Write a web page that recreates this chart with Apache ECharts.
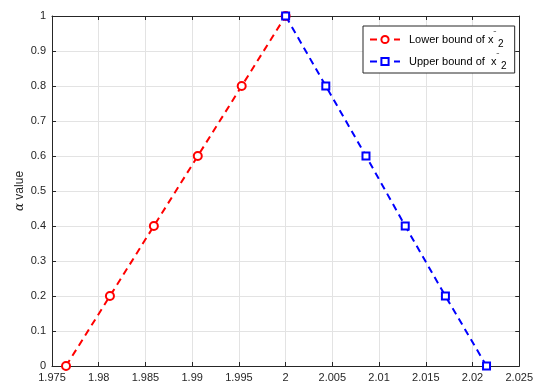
<!DOCTYPE html>
<html>
<head>
<meta charset="utf-8">
<script src="https://cdn.jsdelivr.net/npm/echarts@6/dist/echarts.min.js"></script>
<style>
  html, body { margin: 0; padding: 0; background: #fff; }
  #chart { width: 536px; height: 387px; }
</style>
</head>
<body>
<div id="chart"></div>
<script>
// alpha levels and the two bounds
const alphaLevels = [0, 0.2, 0.4, 0.6, 0.8, 1];
const lowerBound = [1.9765, 1.9812, 1.9859, 1.9906, 1.9953, 2.0];
const upperBound = [2.0215, 2.0171, 2.0128, 2.0086, 2.0043, 2.0];
const xTicks = [1.975, 1.98, 1.985, 1.99, 1.995, 2, 2.005, 2.01, 2.015, 2.02, 2.025];
const yTicks = [0, 0.1, 0.2, 0.3, 0.4, 0.5, 0.6, 0.7, 0.8, 0.9, 1];

(function () {
  const axisColor = '#262626';
  const font = 'Liberation Sans, Arial, sans-serif';
  const chart = echarts.init(document.getElementById('chart'));

  const fmt = v => String(+(+v).toFixed(3));

  // main axes plus mirrored ones for the box ticks
  const baseAxis = (pos, min, max, step, labels) => ({
    type: 'value', position: pos, min: min, max: max, interval: step,
    axisLine: { show: true, onZero: false, lineStyle: { color: axisColor, width: 1 } },
    axisTick: { show: true, inside: true, length: 4, lineStyle: { color: axisColor } },
    axisLabel: { show: labels, color: axisColor, fontFamily: font, fontSize: 11, formatter: fmt, margin: 6 },
    splitLine: { show: labels, lineStyle: { color: '#e3e3e3', width: 1 } }
  });

  const toPairs = (xs) => xs.map((x, i) => [x, alphaLevels[i]]);

  chart.setOption({
    animation: false,
    backgroundColor: '#fff',
    grid: { left: 52, right: 15, top: 16, bottom: 21, containLabel: false },
    xAxis: [
      baseAxis('bottom', xTicks[0], xTicks[xTicks.length - 1], 0.005, true),
      baseAxis('top', xTicks[0], xTicks[xTicks.length - 1], 0.005, false)
    ],
    yAxis: [
      Object.assign(baseAxis('left', yTicks[0], yTicks[yTicks.length - 1], 0.1, true), {
        name: '{a|α} value', nameLocation: 'middle', nameGap: 26, nameRotate: 90,
        nameMoveOverlap: false,
        nameTextStyle: {
          color: axisColor, fontFamily: font, fontSize: 12,
          rich: { a: { fontFamily: 'DejaVu Serif, serif', fontStyle: 'italic', fontSize: 12, color: axisColor } }
        }
      }),
      baseAxis('right', yTicks[0], yTicks[yTicks.length - 1], 0.1, false)
    ],
    legend: {
      orient: 'vertical', left: 363, top: 26,
      padding: [4, 8, 2, 6], itemGap: 3, itemWidth: 30, itemHeight: 9,
      backgroundColor: '#fff', borderColor: axisColor, borderWidth: 1, borderRadius: 0,
      textStyle: {
        color: '#000', fontFamily: font, fontSize: 11,
        rich: {
          t: { fontSize: 11, color: '#000', padding: [0, 0, 0, 4] },
          sup: { fontSize: 8, verticalAlign: 'top', padding: [0, 0, 7, 0], color: '#000' },
          sub: { fontSize: 10, padding: [9, 0, 0, 2], color: '#000' }
        }
      },
      formatter: name => name === 'lower'
        ? '{t|Lower bound of x}{sup|˜}{sub|2}'
        : '{t|Upper bound of  x}{sup|˜}{sub|2}',
      data: ['lower', 'upper']
    },
    series: [
      {
        name: 'lower', type: 'line', data: toPairs(lowerBound),
        symbol: 'emptyCircle', symbolSize: 8,
        lineStyle: { color: '#ff0000', width: 2, type: [7, 5] },
        itemStyle: { color: '#ff0000', borderColor: '#ff0000', borderWidth: 2 }
      },
      {
        name: 'upper', type: 'line', data: toPairs(upperBound),
        symbol: 'emptyRect', symbolSize: 7,
        lineStyle: { color: '#0000ff', width: 2, type: [7, 5] },
        itemStyle: { color: '#0000ff', borderColor: '#0000ff', borderWidth: 2 }
      }
    ]
  });
})();
</script>
</body>
</html>
